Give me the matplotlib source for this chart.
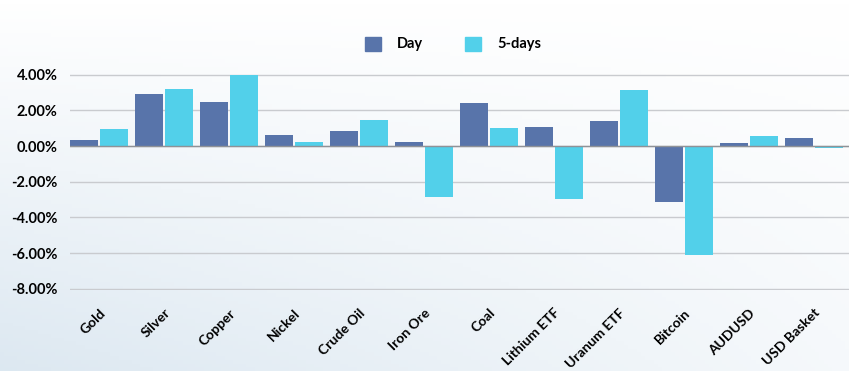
import numpy as np
import matplotlib.pyplot as plt
from matplotlib.patches import Patch
from matplotlib.ticker import FuncFormatter

plt.rcParams['font.family'] = ['Lato', 'DejaVu Sans']
plt.rcParams['font.weight'] = 'bold'

categories = ['Gold', 'Silver', 'Copper', 'Nickel', 'Crude Oil', 'Iron Ore', 'Coal',
              'Lithium ETF', 'Uranum ETF', 'Bitcoin', 'AUDUSD', 'USD Basket']
day = [0.34, 2.95, 2.49, 0.62, 0.84, 0.25, 2.43, 1.05, 1.40, -3.13, 0.19, 0.43]
five_days = [0.95, 3.19, 3.98, 0.22, 1.44, -2.83, 0.99, -2.98, 3.17, -6.12, 0.58, -0.08]
yticks = [4, 2, 0, -2, -4, -6, -8]

c_day = '#5874aa'
c_5d = '#52d0ea'

fig = plt.figure(figsize=[8.49, 3.71], dpi=100)

# soft background gradient
bg = fig.add_axes([0, 0, 1, 1], zorder=-10)
xx, yy = np.meshgrid(np.linspace(0, 1, 200), np.linspace(0, 1, 100))
g = np.clip(1.0 - 0.9 * (1 - xx) * (1 - yy) - 0.25 * (1 - yy) * xx, 0, 1)
c0 = np.array([0.85, 0.90, 0.94])
c1 = np.array([1.0, 1.0, 1.0])
img = c0[None, None, :] * (1 - g[..., None]) + c1[None, None, :] * g[..., None]
bg.imshow(img, extent=[0, 1, 0, 1], aspect='auto', origin='lower')
bg.axis('off')

ax = fig.add_axes([70 / 849, 0.218, 780 / 849, 0.59])
ax.patch.set_alpha(0)

x = np.arange(len(categories))
w = 0.43
ax.bar(x - 0.015 - w / 2, day, width=w, color=c_day, zorder=3)
ax.bar(x + 0.015 + w / 2, five_days, width=w, color=c_5d, zorder=3)

ax.set_xlim(-0.445, len(categories) - 0.445)
ax.set_ylim(-8.08, 4.2)
ax.set_yticks(yticks)
ax.yaxis.set_major_formatter(FuncFormatter(lambda v, p: '%.2f%%' % v))
ax.grid(axis='y', color='#c9cbcf', linewidth=1.0, zorder=0)
ax.axhline(0, color='#8f9297', linewidth=1.0, zorder=4)
for s in ax.spines.values():
    s.set_visible(False)
ax.tick_params(axis='both', length=0)
ax.tick_params(axis='y', pad=9, labelsize=10.5)
ax.set_xticks(x)
ax.set_xticklabels(categories, rotation=45, ha='right', rotation_mode='anchor', fontsize=10)
ax.tick_params(axis='x', pad=12)

handles = [Patch(color=c_day, label='Day'), Patch(color=c_5d, label='5-days')]
fig.legend(handles=handles, loc='center', bbox_to_anchor=(453 / 849, 1 - 44 / 371), ncol=2, frameon=False,
           handlelength=1.1, handleheight=1.1, handletextpad=1.1, columnspacing=2.9,
           prop={'weight': 'bold', 'size': 10.5})

fig.savefig('out.png', dpi=100)
